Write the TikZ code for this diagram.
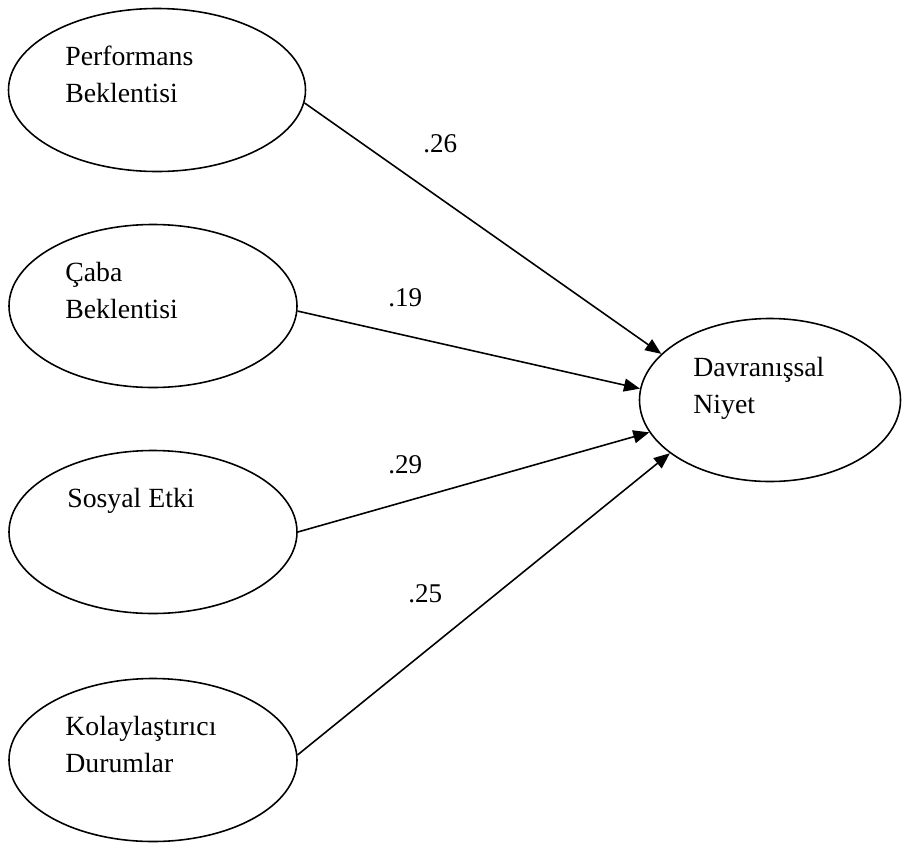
\documentclass[tikz,border=0pt]{standalone}
\usepackage{fontspec}
\setmainfont{Liberation Serif}
\usetikzlibrary{arrows.meta, shapes.geometric}

\begin{document}
\begin{tikzpicture}[
  construct/.style={draw, ellipse, line width=0.9pt, minimum width=#1, minimum height=3.26cm, inner sep=0pt},
  construct/.default=5.76cm,
  varname/.style={anchor=base west, align=left, inner sep=0pt, font=\fontsize{15.8pt}{21pt}\selectfont},
  coef/.style={anchor=base west, inner sep=0pt, font=\fontsize{15.4pt}{18pt}\selectfont},
  effect/.style={line width=0.9pt, -{Triangle[length=0.32cm, width=0.26cm]}}]
  \useasboundingbox (0,0) rectangle (18.04,-16.88);
  % latent variables
  \node[construct=5.94cm] (pe) at (3.14, -1.80) {};
  \node[construct] (ee) at (3.06, -6.12) {};
  \node[construct] (si) at (3.06, -10.64) {};
  \node[construct] (fc) at (3.06, -15.20) {};
  \node[construct=5.22cm] (bi) at (15.40, -8.00) {};
  \node[varname] (pe-text) at (1.30, -2.04) {Performans\\Beklentisi};
  \node[varname] (ee-text) at (1.30, -6.36) {Çaba\\Beklentisi};
  \node[varname] (si-text) at (1.34, -10.14) {Sosyal Etki};
  \node[varname] (fc-text) at (1.30, -15.44) {Kolaylaştırıcı\\Durumlar};
  \node[varname] (bi-text) at (13.86, -8.26) {Davranışsal\\Niyet};
  % paths
  \draw[effect] (pe.-5) -- (bi.157);
  \draw[effect] (ee.-2) -- (bi.175);
  \draw[effect] (si.0) -- (bi.195);
  \draw[effect] (fc.2) -- (bi.208);
  \node[coef] (c1) at (8.46, -3.04) {.26};
  \node[coef] (c2) at (7.76, -6.12) {.19};
  \node[coef] (c3) at (7.76, -9.46) {.29};
  \node[coef] (c4) at (8.16, -12.04) {.25};
\end{tikzpicture}
\end{document}
